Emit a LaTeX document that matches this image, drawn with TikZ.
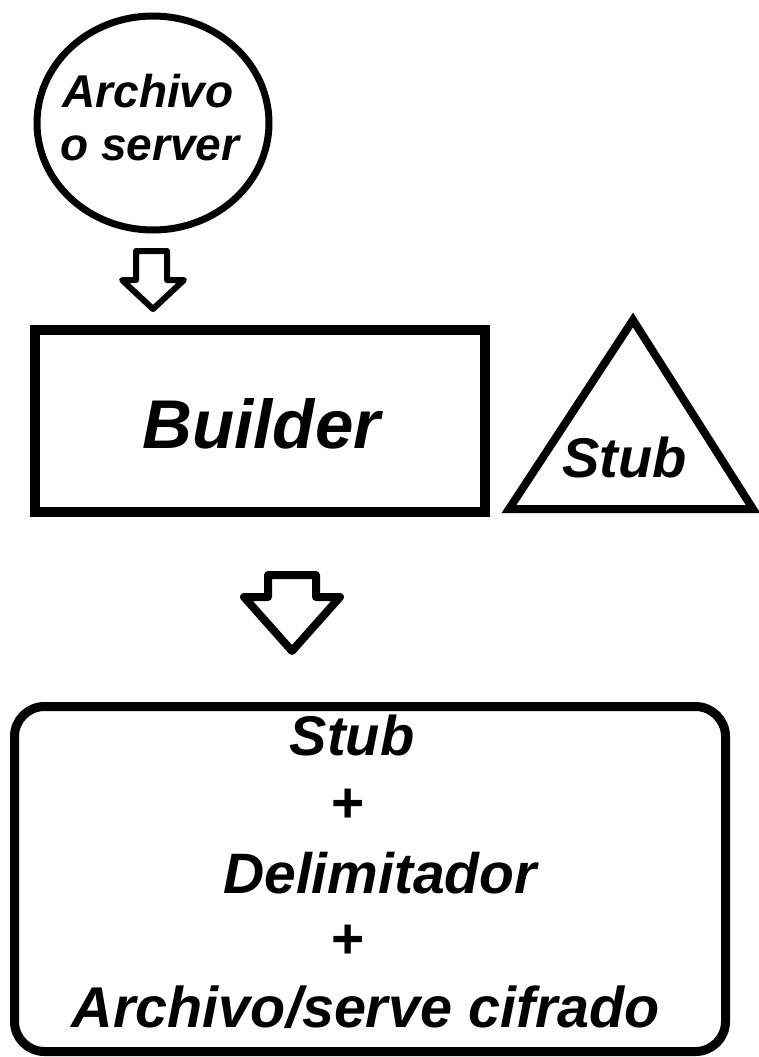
\documentclass[tikz,border=0pt]{standalone}
\usepackage{fontspec}
\setmainfont{Liberation Sans}
\usetikzlibrary{shapes.geometric}
\begin{document}
\begin{tikzpicture}[x=1pt,y=-1pt,
  lbl/.style={anchor=base,inner sep=0pt,font=\bfseries\itshape\fontsize{#1}{#1}\selectfont},
  plus/.style={anchor=center,inner sep=0pt,font=\bfseries\fontsize{57}{57}\selectfont},
  outline/.style={draw=black,line width=#1,fill=white},
  blockarrow/.style={draw=black,line width=#1,line join=round}]
\useasboundingbox (0,0) rectangle (759,1057);

% source: file or server
\node[ellipse,outline=7pt,minimum width=232pt,minimum height=214pt,inner sep=0pt] (src) at (153,123) {};
\node[lbl=46] (srcA) at (148,107) {Archivo};
\node[lbl=46] (srcB) at (150,160) {o server};

% small hollow arrow into the builder
\draw[blockarrow=6pt] (136,251) -- (167,251) -- (167,280) -- (184,280) -- (153,309)
  -- (122,280) -- (136,280) -- cycle;

% builder box
\node[rectangle,outline=10pt,minimum width=450pt,minimum height=182pt,inner sep=0pt] (builder) at (260,421) {};
\node[lbl=69] (builderT) at (261.5,448) {Builder};

% stub triangle
\coordinate (tA) at (633,320);
\coordinate (tB) at (509,509);
\coordinate (tC) at (753,509);
\draw[outline=8pt] (tA) -- (tB) -- (tC) -- cycle;
\node[lbl=56] (stubT) at (624.5,477) {Stub};

% large hollow arrow to the result
\draw[blockarrow=8pt] (268,575) -- (316,575) -- (316,597) -- (340,597) -- (292,651)
  -- (244,597) -- (268,597) -- cycle;

% result box
\node[rectangle,rounded corners=30pt,outline=9pt,minimum width=711pt,minimum height=345pt,inner sep=0pt] (result) at (370,879) {};
\node[lbl=56] (r1) at (352,755) {Stub};
\node[plus] (p1) at (348,806) {+};
\node[lbl=57] (r2) at (380,893) {Delimitador};
\node[plus] (p2) at (348,942) {+};
\node[lbl=57.5] (r3) at (366,1027) {Archivo/serve cifrado};
\end{tikzpicture}
\end{document}
